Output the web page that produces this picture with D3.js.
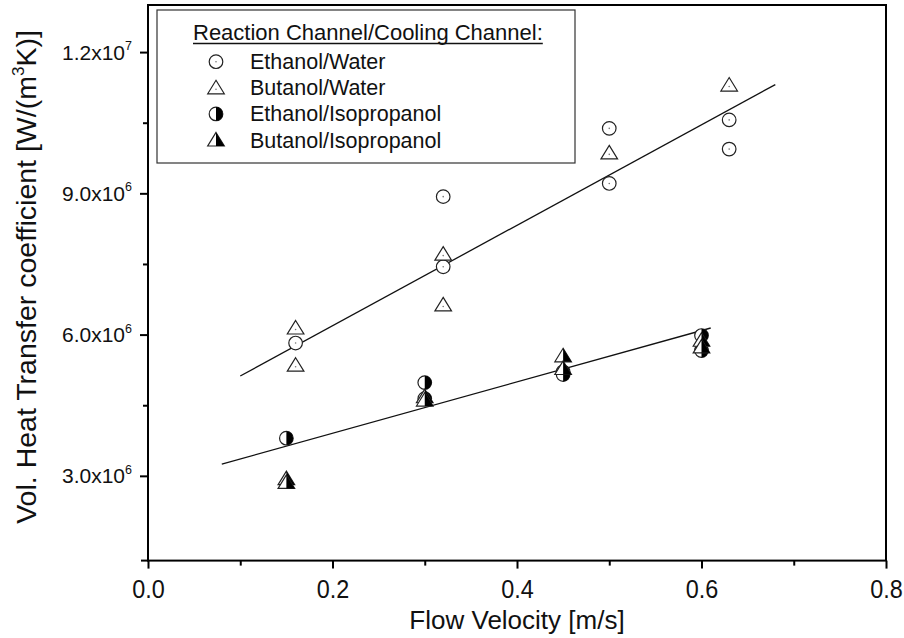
<!DOCTYPE html>
<html>
<head>
<meta charset="utf-8">
<script src="https://cdn.jsdelivr.net/npm/d3@7"></script>
<style>
body{margin:0;background:#fff}
svg{font-family:"Liberation Sans",Arial,sans-serif}
</style>
</head>
<body>
<script>
// values (flow velocity in m/s, coefficient in W/(m3K))
const ethWaterV=[0.16,0.32,0.32,0.50,0.50,0.63,0.63]
const ethWaterH=[5.82e6,8.93e6,7.44e6,10.38e6,9.21e6,10.56e6,9.94e6]
const butWaterV=[0.16,0.16,0.32,0.32,0.50,0.63]
const butWaterH=[6.14e6,5.35e6,7.71e6,6.63e6,9.86e6,11.30e6]
const ethIsoV=[0.15,0.30,0.30,0.45,0.45,0.60,0.60]
const ethIsoH=[3.80e6,4.98e6,4.64e6,5.21e6,5.15e6,5.98e6,5.66e6]
const butIsoV=[0.15,0.15,0.30,0.30,0.45,0.45,0.60,0.60]
const butIsoH=[2.94e6,2.86e6,4.68e6,4.61e6,5.55e6,5.28e6,5.88e6,5.74e6]

// fitted lines (end points)
const fitWaterV=[0.10,0.68]
const fitWaterH=[5.12e6,11.31e6]
const fitIsoV=[0.08,0.61]
const fitIsoH=[3.25e6,6.14e6]

const legendNames=["Ethanol/Water","Butanol/Water","Ethanol/Isopropanol","Butanol/Isopropanol"]
const legendKinds=["circle","tri","halfCircle","halfTri"]

const xMajor=[0,0.2,0.4,0.6,0.8]
const xMinor=[0.1,0.3,0.5,0.7]
const yMajor=[3e6,6e6,9e6,1.2e7]
const yMinor=[4.5e6,7.5e6,1.05e7]
const yMant=["3.0","6.0","9.0","1.2"]
const yExp=["6","6","6","7"]

//constants
const w=904, h=638
const pLeft=148, pRight=886, pTop=5, pBottom=560.6

const svg=d3.select("body").append("svg")
    .attr("width",w).attr("height",h)

const x=d3.scaleLinear().domain([0,0.8]).range([pLeft,pRight])
const y=d3.scaleLinear().domain([1.2e6,1.3e7]).range([pBottom,pTop])

// markers
function marker(g,kind){
  const sc="#222", sw=1.2
  if(kind==="circle"||kind==="halfCircle"){
    g.append("circle").attr("r",6.8).attr("fill","#fff").attr("stroke",sc).attr("stroke-width",sw)
    if(kind==="halfCircle"){
      g.append("path").attr("d","M0,-6.8A6.8,6.8 0 0 1 0,6.8Z").attr("fill","#000")
    }else{
      g.append("circle").attr("r",0.8).attr("fill","#777")
    }
  }else{
    g.append("path").attr("d","M0,-7.5L8.3,6L-8.3,6Z").attr("fill","#fff").attr("stroke",sc).attr("stroke-width",sw)
    if(kind==="halfTri"){
      g.append("path").attr("d","M0,-7.5L8.3,6L0,6Z").attr("fill","#000")
    }else{
      g.append("circle").attr("cy",1.5).attr("r",0.8).attr("fill","#777")
    }
  }
}

// fit lines
const line=d3.line().x(d=>x(d[0])).y(d=>y(d[1]))
svg.append("path").attr("d",line(d3.zip(fitWaterV,fitWaterH)))
    .attr("fill","none").attr("stroke","#111").attr("stroke-width",1.3)
svg.append("path").attr("d",line(d3.zip(fitIsoV,fitIsoH)))
    .attr("fill","none").attr("stroke","#111").attr("stroke-width",1.3)

// points
const series=[[ethWaterV,ethWaterH,"circle"],[butWaterV,butWaterH,"tri"],[ethIsoV,ethIsoH,"halfCircle"],[butIsoV,butIsoH,"halfTri"]]
series.forEach(s=>{
  svg.append("g").selectAll("g")
    .data(d3.zip(s[0],s[1]))
    .enter().append("g")
    .attr("transform",d=>"translate("+x(d[0])+","+y(d[1])+")")
    .each(function(){marker(d3.select(this),s[2])})
})

// frame
svg.append("rect").attr("x",pLeft).attr("y",pTop).attr("width",pRight-pLeft).attr("height",pBottom-pTop)
    .attr("fill","none").attr("stroke","#000").attr("stroke-width",2)
svg.append("line").attr("x1",pLeft-7).attr("x2",pLeft).attr("y1",pBottom).attr("y2",pBottom)
    .attr("stroke","#000").attr("stroke-width",2)

// x axis (major + minor in separate groups)
const xAx=svg.append("g").attr("transform","translate(0,"+pBottom+")")
    .call(d3.axisBottom(x).tickValues(xMajor).tickSize(8).tickFormat(d3.format(".1f")))
const xAxMin=svg.append("g").attr("transform","translate(0,"+pBottom+")")
    .call(d3.axisBottom(x).tickValues(xMinor).tickSize(5).tickFormat(""))
svg.selectAll(".domain").remove()
xAx.selectAll("line").attr("stroke","#000").attr("stroke-width",2)
xAxMin.selectAll("line").attr("stroke","#000").attr("stroke-width",2)
xAx.selectAll("text").attr("y",37).attr("dy",null).attr("fill","#111")
    .style("font-size","26px").attr("transform","scale(0.9,1)")

// y axis
const yAx=svg.append("g").attr("transform","translate("+pLeft+",0)")
    .call(d3.axisLeft(y).tickValues(yMajor).tickSize(8).tickFormat(""))
const yAxMin=svg.append("g").attr("transform","translate("+pLeft+",0)")
    .call(d3.axisLeft(y).tickValues(yMinor).tickSize(5).tickFormat(""))
svg.selectAll(".domain").remove()
yAx.selectAll("line").attr("stroke","#000").attr("stroke-width",2)
yAxMin.selectAll("line").attr("stroke","#000").attr("stroke-width",2)

const yl=svg.append("g").selectAll("text").data(yMajor).enter().append("text")
    .attr("x",132).attr("y",d=>y(d)+7.5).attr("text-anchor","end")
    .style("font-size","21px").attr("fill","#111")
yl.append("tspan").text((d,i)=>yMant[i]+"x10")
yl.append("tspan").attr("dy",-9.5).style("font-size","12.5px").text((d,i)=>yExp[i])

// axis titles
svg.append("text").attr("x",517).attr("y",629).attr("text-anchor","middle")
    .style("font-size","26px").attr("fill","#111").text("Flow Velocity [m/s]")
const yt=svg.append("text").attr("transform","translate(36,277) rotate(-90)")
    .attr("text-anchor","middle").style("font-size","28.5px").attr("fill","#111")
yt.append("tspan").text("Vol. Heat Transfer coefficient [W/(m")
yt.append("tspan").attr("dy",-12).style("font-size","17px").text("3")
yt.append("tspan").attr("dy",12).text("K)]")

// legend
const lg=svg.append("g")
lg.append("rect").attr("x",157).attr("y",10).attr("width",418).attr("height",153)
    .attr("fill","#fff").attr("stroke","#333").attr("stroke-width",1.2)
const lt=lg.append("text").attr("x",193).attr("y",40).style("font-size","22px").attr("fill","#111")
    .text("Reaction Channel/Cooling Channel:")
const tl=lt.node().getComputedTextLength()
lg.append("line").attr("x1",193).attr("x2",193+tl).attr("y1",43.5).attr("y2",43.5)
    .attr("stroke","#111").attr("stroke-width",1.3)
const rowY=d3.scaleLinear().domain([0,3]).range([61.7,140])
legendNames.forEach((n,i)=>{
  marker(lg.append("g").attr("transform","translate(216,"+rowY(i)+")"),legendKinds[i])
  lg.append("text").attr("x",250).attr("y",rowY(i)+7.5).style("font-size","21.5px").attr("fill","#111").text(n)
})
</script>
</body>
</html>
